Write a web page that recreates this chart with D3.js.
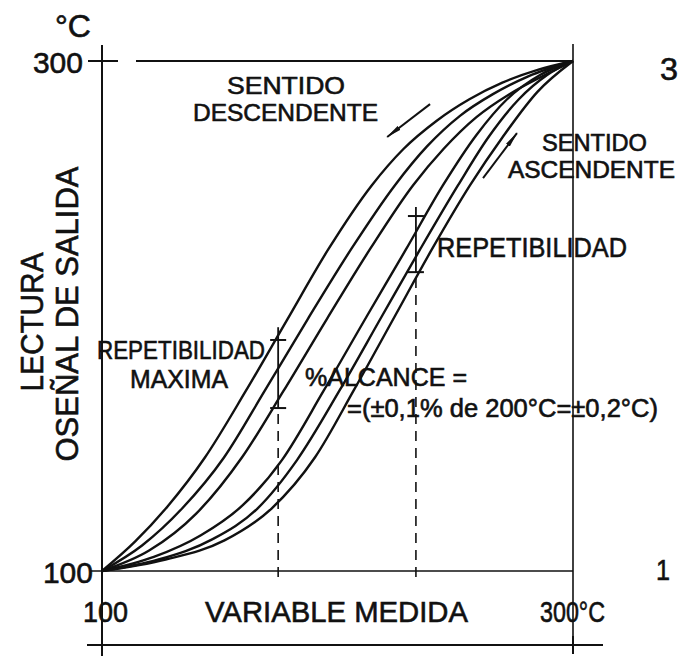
<!DOCTYPE html>
<html>
<head>
<meta charset="utf-8">
<script src="https://cdn.jsdelivr.net/npm/d3@7"></script>
<style>
  body { margin: 0; background: #fff; }
  svg text { font-family: "Liberation Sans", Arial, sans-serif; fill: #111; stroke: #111; stroke-width: 0.6; }
</style>
</head>
<body>
<svg id="chart" width="681" height="656"></svg>
<script>
// hysteresis curves: [variable medida, lectura] in °C
const descOuter = [[100,100],[114,111.5],[128,125.5],[143.7,144.5],[161,170.5],[178.6,198.5],[196,226],[214.6,251.3],[228,265.5],[242,276.5],[256,285],[270,291.5],[285,296.5],[300,300]];
const descMid   = [[100,100],[117,110],[134,124.5],[151.8,144.5],[169,170.5],[187.5,199],[206,226.5],[224.4,251.3],[238,266.5],[252,278.5],[266,287],[281,294],[300,300]];
const descInner = [[100,100],[120,108],[140,122.5],[159.4,144.5],[177,170.5],[195.6,199],[214,226.5],[232.1,251.3],[245,265.5],[259,278],[273,287],[287,294],[300,300]];
const ascInner  = [[100,100],[122,105.5],[142,114],[160,126],[176.4,143.5],[194,170.5],[212.5,200],[229,226],[244.8,251.3],[259,271],[272,285],[286,294.5],[300,300]];
const ascMid    = [[100,100],[124,104.5],[147,112.5],[166,124.5],[182.8,143.5],[201,171],[218.9,200],[235,226],[251.2,251.3],[264,270],[277,285],[289,294.5],[300,300]];
const ascOuter  = [[100,100],[127,104.5],[152,112],[172,124.5],[190.4,144.5],[207,171],[224.4,200],[240,226],[256.3,251.3],[270,270],[285,288],[300,300]];

// repeatability marks: x, bar top, upper cross, lower cross
const repMarks = [
  { x: 174.8, barTop: 195.6, top: 190.6, bottom: 163.9 },
  { x: 233.3, barTop: 242.7, top: 239.2, bottom: 217.2 },
];

// direction arrows: from -> to
const arrows = [
  { from: [239.3, 283.1], to: [221.1, 270.2] },
  { from: [261.8, 254.1], to: [276.2, 271.7] },
];

const yTickLabels = ['100', '300'];
const xTickLabels = ['100', '300°C'];

const svg = d3.select('#chart');

const x = d3.scaleLinear().domain([100, 300]).range([102, 573]);
const y = d3.scaleLinear().domain([100, 300]).range([571, 61]);

svg.append('defs').append('marker')
  .attr('id', 'head')
  .attr('viewBox', '0 0 16 6')
  .attr('refX', 15).attr('refY', 3)
  .attr('markerWidth', 16).attr('markerHeight', 6)
  .attr('markerUnits', 'userSpaceOnUse')
  .attr('orient', 'auto')
  .append('path')
  .attr('d', 'M0,0.6 L16,3 L0,5.4 Z')
  .attr('fill', '#111');

//
// FRAME
//

const frame = svg.append('g').attr('stroke', '#111').attr('fill', 'none');

frame.append('line') // left axis
  .attr('x1', x(100)).attr('x2', x(100))
  .attr('y1', 45).attr('y2', 656)
  .attr('stroke-width', 2);

frame.append('line') // right edge
  .attr('x1', x(300)).attr('x2', x(300))
  .attr('y1', 44).attr('y2', 654)
  .attr('stroke-width', 1.6);

frame.append('line') // 300 tick cross
  .attr('x1', 88).attr('x2', 118)
  .attr('y1', y(300)).attr('y2', y(300))
  .attr('stroke-width', 2);

frame.append('line') // top edge
  .attr('x1', 136).attr('x2', x(300))
  .attr('y1', y(300)).attr('y2', y(300))
  .attr('stroke-width', 2);

frame.append('line') // bottom of plot
  .attr('x1', 90).attr('x2', x(300))
  .attr('y1', y(100)).attr('y2', y(100))
  .attr('stroke-width', 1.6);

frame.append('line') // lower axis under labels
  .attr('x1', 87).attr('x2', 603)
  .attr('y1', 645).attr('y2', 645)
  .attr('stroke-width', 2.2);

frame.append('line')
  .attr('x1', x(300)).attr('x2', x(300))
  .attr('y1', 636).attr('y2', 654)
  .attr('stroke-width', 2);

//
// TICK LABELS
//

svg.append('text').text('°C')
  .attr('x', 55).attr('y', 37)
  .attr('font-size', 32);

svg.selectAll('.ylab')
  .data(yTickLabels)
  .join('text')
  .attr('class', 'ylab')
  .attr('text-anchor', 'end')
  .attr('x', (d) => (d === '300' ? 83 : 93))
  .attr('y', (d) => y(+d) + 12)
  .attr('font-size', 30)
  .text((d) => d);

svg.selectAll('.xlab')
  .data(xTickLabels)
  .join('text')
  .attr('class', 'xlab')
  .attr('x', (d, i) => (i === 0 ? x(100) - 19 : x(300) - 33))
  .attr('y', 622)
  .attr('font-size', 30)
  .attr('textLength', (d, i) => (i === 0 ? 45 : 65))
  .attr('lengthAdjust', 'spacingAndGlyphs')
  .text((d) => d);

svg.append('text').text('VARIABLE MEDIDA')
  .attr('x', 205).attr('y', 622)
  .attr('font-size', 30)
  .attr('textLength', 263)
  .attr('lengthAdjust', 'spacingAndGlyphs');

svg.append('text').text('LECTURA')
  .attr('transform', 'translate(43,322) rotate(-90)')
  .attr('text-anchor', 'middle')
  .attr('font-size', 31)
  .attr('textLength', 139)
  .attr('lengthAdjust', 'spacingAndGlyphs');

svg.append('text').text('OSEÑAL DE SALIDA')
  .attr('transform', 'translate(78,314) rotate(-90)')
  .attr('text-anchor', 'middle')
  .attr('font-size', 31)
  .attr('textLength', 295)
  .attr('lengthAdjust', 'spacingAndGlyphs');

//
// DASHED GUIDES + REPEATABILITY
//

const rep = svg.append('g').attr('stroke', '#111').attr('fill', 'none');

rep.selectAll('.guide')
  .data(repMarks)
  .join('line')
  .attr('x1', (d) => x(d.x)).attr('x2', (d) => x(d.x))
  .attr('y1', y(100) + 6).attr('y2', (d) => y(d.bottom))
  .attr('stroke-width', 1.6)
  .attr('stroke-dasharray', '10,7');

rep.selectAll('.bar')
  .data(repMarks)
  .join('line')
  .attr('x1', (d) => x(d.x)).attr('x2', (d) => x(d.x))
  .attr('y1', (d) => y(d.bottom)).attr('y2', (d) => y(d.barTop))
  .attr('stroke-width', 1.8);

repMarks.forEach((d) => {
  [d.top, d.bottom].forEach((v) => {
    rep.append('line')
      .attr('x1', x(d.x) - 8).attr('x2', x(d.x) + 8)
      .attr('y1', y(v)).attr('y2', y(v))
      .attr('stroke-width', 2);
  });
});

//
// CURVES
//

const line = d3
  .line()
  .curve(d3.curveMonotoneX)
  .x((d) => x(d[0]))
  .y((d) => y(d[1]));

svg.append('g')
  .selectAll('path')
  .data([descOuter, descMid, descInner, ascInner, ascMid, ascOuter])
  .join('path')
  .attr('fill', 'none')
  .attr('stroke', '#111')
  .attr('stroke-width', 2.4)
  .attr('d', line);

//
// ARROWS
//

svg.append('g')
  .selectAll('line')
  .data(arrows)
  .join('line')
  .attr('x1', (d) => x(d.from[0])).attr('y1', (d) => y(d.from[1]))
  .attr('x2', (d) => x(d.to[0])).attr('y2', (d) => y(d.to[1]))
  .attr('stroke', '#111')
  .attr('stroke-width', 2)
  .attr('marker-end', 'url(#head)');

//
// ANNOTATIONS
//

const notes = [
  { t: 'SENTIDO', x: 227, y: 94, s: 24, w: 118 },
  { t: 'DESCENDENTE', x: 193, y: 121, s: 24, w: 185 },
  { t: 'SENTIDO', x: 542, y: 151, s: 23, w: 105 },
  { t: 'ASCENDENTE', x: 508, y: 178, s: 23, w: 167 },
  { t: 'REPETIBILIDAD', x: 437, y: 257, s: 28, w: 190 },
  { t: 'REPETIBILIDAD', x: 97, y: 359, s: 26, w: 168 },
  { t: 'MAXIMA', x: 130, y: 388, s: 26, w: 98 },
  { t: '%ALCANCE =', x: 305, y: 386, s: 25, w: 162 },
  { t: '=(±0,1% de 200°C=±0,2°C)', x: 347, y: 417, s: 25, w: 311 },
  { t: '3', x: 660, y: 80, s: 31, w: 18 },
  { t: '1', x: 656, y: 580, s: 30, w: 14 },
];

svg.append('g')
  .selectAll('text')
  .data(notes)
  .join('text')
  .attr('x', (d) => d.x)
  .attr('y', (d) => d.y)
  .attr('font-size', (d) => d.s)
  .attr('textLength', (d) => d.w)
  .attr('lengthAdjust', 'spacingAndGlyphs')
  .text((d) => d.t);
</script>
</body>
</html>
